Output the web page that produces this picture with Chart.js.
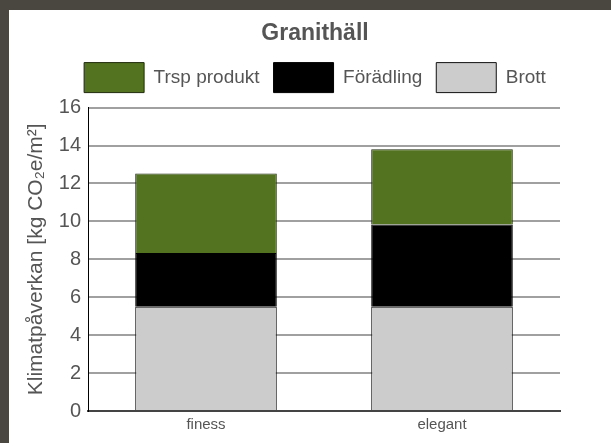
<!DOCTYPE html>
<html>
<head>
<meta charset="utf-8">
<script src="https://cdn.jsdelivr.net/npm/chart.js@4"></script>
<style>
  html, body { margin: 0; padding: 0; background: #4a4640; }
  #wrap { position: absolute; left: 0; top: 0; width: 611px; height: 443px; }
</style>
</head>
<body>
<div id="wrap"><canvas id="c" width="611" height="443"></canvas></div>
<script>
const categories = ['finess', 'elegant'];
const brott = [5.5, 5.5];
const foradling = [2.83, 4.33];
const trspProdukt = [4.19, 3.97];
const yTicks = [0, 2, 4, 6, 8, 10, 12, 14, 16];

const FONT = "'Liberation Sans', Arial, sans-serif";
const TXT = '#555555';

const bgPlugin = {
  id: 'bg',
  beforeDraw(chart) {
    const ctx = chart.ctx;
    ctx.save();
    ctx.fillStyle = '#4a4640';
    ctx.fillRect(0, 0, chart.width, chart.height);
    ctx.fillStyle = '#ffffff';
    ctx.fillRect(9, 10, chart.width - 9, chart.height - 10);
    ctx.restore();
  }
};

new Chart(document.getElementById('c'), {
  type: 'bar',
  data: {
    labels: categories,
    datasets: [
      { label: 'Brott', data: brott, backgroundColor: '#cccccc', borderColor: '#111111', borderWidth: 1 },
      { label: 'Förädling', data: foradling, backgroundColor: '#000000', borderColor: '#000000', borderWidth: 1 },
      { label: 'Trsp produkt', data: trspProdukt, backgroundColor: '#537321', borderColor: '#1e2a0c', borderWidth: 1 }
    ]
  },
  options: {
    responsive: false,
    animation: false,
    devicePixelRatio: 1,
    layout: { padding: { left: 19, right: 0, top: 10, bottom: 0 } },
    datasets: { bar: { barPercentage: 0.6, categoryPercentage: 1.0 } },
    plugins: {
      tooltip: { enabled: false },
      title: {
        display: true,
        text: 'Granithäll',
        color: TXT,
        font: { family: FONT, size: 23, weight: 'bold' },
        padding: { top: 10, bottom: 1 }
      },
      legend: {
        display: true,
        position: 'top',
        reverse: true,
        labels: {
          boxWidth: 60,
          boxHeight: 30,
          padding: 14,
          color: TXT,
          font: { family: FONT, size: 19 }
        }
      }
    },
    scales: {
      x: {
        stacked: true,
        grid: { display: false, drawTicks: false },
        border: { display: true, color: '#444444', width: 2 },
        ticks: { color: TXT, font: { family: FONT, size: 15 }, padding: 5 },
        afterFit(s) { s.height = 32; }
      },
      xTop: {
        type: 'category',
        position: 'top',
        display: true,
        grid: { display: false, drawTicks: false },
        border: { display: false },
        ticks: { display: false },
        afterFit(s) { s.height = 5; }
      },
      y: {
        stacked: true,
        min: 0,
        max: 16,
        afterBuildTicks(s) { s.ticks = yTicks.map(v => ({ value: v })); },
        grid: { color: '#a0a0a0', lineWidth: 2, drawTicks: false },
        border: { display: true, color: '#000000', width: 1 },
        ticks: { color: TXT, font: { family: FONT, size: 20 }, padding: 7 },
        title: {
          display: true,
          text: 'Klimatpåverkan [kg CO₂e/m²]',
          color: TXT,
          font: { family: FONT, size: 21 },
          padding: { top: 5, bottom: 0 }
        },
        afterFit(s) { s.width = 69; }
      },
      yR: {
        position: 'right',
        display: true,
        grid: { display: false, drawTicks: false },
        border: { display: false },
        ticks: { display: false },
        afterFit(s) { s.width = 51; }
      }
    }
  },
  plugins: [bgPlugin]
});
</script>
</body>
</html>
